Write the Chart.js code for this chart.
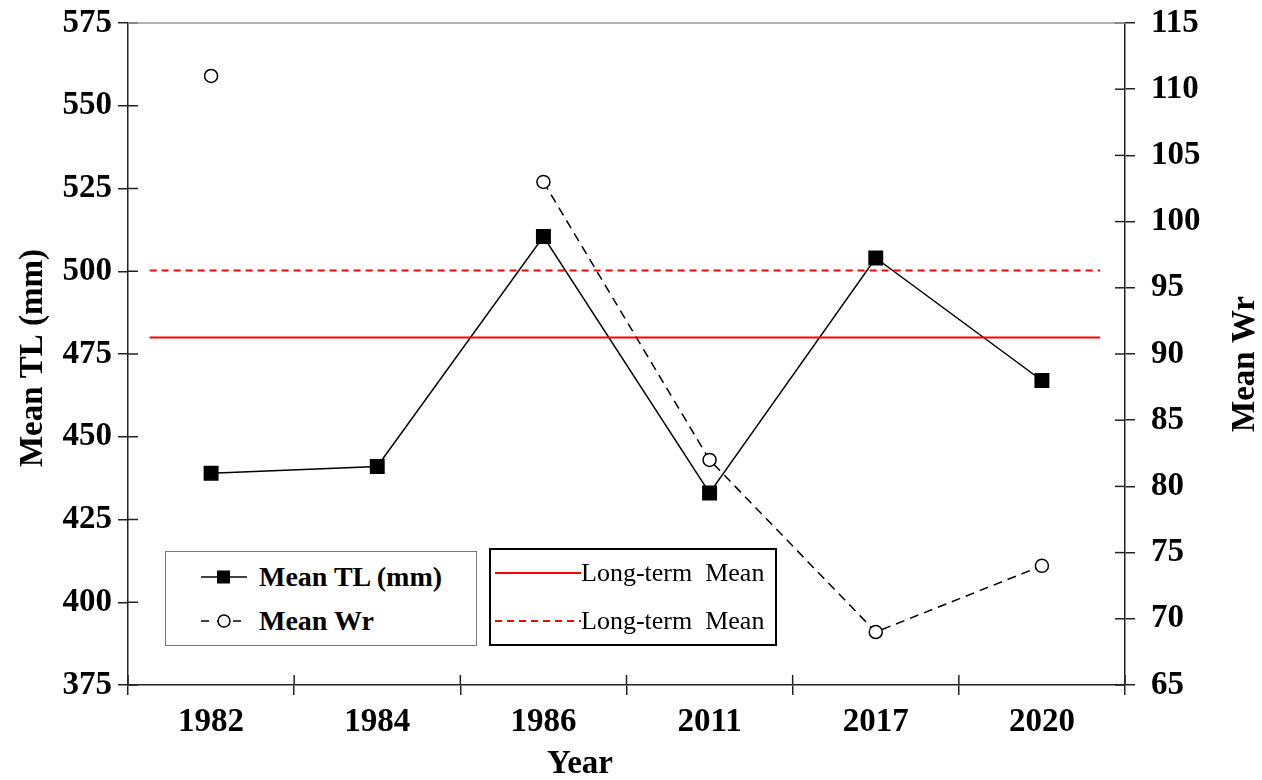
<!DOCTYPE html>
<html>
<head>
<meta charset="utf-8">
<script src="https://cdn.jsdelivr.net/npm/chart.js@4.4.0/dist/chart.umd.min.js"></script>
<style>
    body { margin: 0; background: #fff; }
    #wrap { position: relative; width: 1262px; height: 780px; }
    .legend { position: absolute; background: #fff; box-sizing: border-box; font-family: "Liberation Serif", serif; color: #000; }
    .row { position: absolute; display: flex; align-items: center; white-space: pre; }
    .row svg { display: block; }
</style>
</head>
<body>
<div id="wrap">
    <canvas id="wrChart"></canvas>

    <div class="legend" style="left:165px; top:551px; width:312px; height:95px; border:1px solid #777;">
        <div class="row" style="left:33px; top:8px; height:34px; font-weight:bold; font-size:28px;">
            <svg width="50" height="20"><line x1="2" y1="10" x2="48" y2="10" stroke="#000" stroke-width="1.5"/><rect x="18" y="3.5" width="13" height="13" fill="#000"/></svg>
            <span style="margin-left:10px;">Mean TL (mm)</span>
        </div>
        <div class="row" style="left:33px; top:52px; height:34px; font-weight:bold; font-size:28px;">
            <svg width="50" height="20"><line x1="2" y1="10" x2="48" y2="10" stroke="#000" stroke-width="1.5" stroke-dasharray="8,8"/><circle cx="25" cy="10" r="6" fill="#fff" stroke="#000" stroke-width="1.5"/></svg>
            <span style="margin-left:10px;">Mean Wr</span>
        </div>
    </div>

    <div class="legend" style="left:489px; top:548px; width:288px; height:98px; border:2px solid #000;">
        <div class="row" style="left:2px; top:7px; height:32px; font-size:26px;">
            <svg width="88" height="20"><line x1="2" y1="10" x2="88" y2="10" stroke="#ff0000" stroke-width="2"/></svg>
            <span>Long-term  Mean</span>
        </div>
        <div class="row" style="left:2px; top:55px; height:32px; font-size:26px;">
            <svg width="88" height="20"><line x1="2" y1="10" x2="88" y2="10" stroke="#ff0000" stroke-width="2" stroke-dasharray="7,5"/></svg>
            <span>Long-term  Mean</span>
        </div>
    </div>
</div>

<script>
// data
const years = ['1982', '1984', '1986', '2011', '2017', '2020'];
const meanTL = [439, 441, 510.5, 433, 504, 467];
const meanWr = [111, null, 103, 82, 69, 74];
const tlLongTermMean = 480;
const wrLongTermMean = 96.3;
// the long-term mean lines run a bit past the outer points (in category units)
const refLineStart = -0.37;
const refLineEnd = 5.35;

const FONT = '"Liberation Serif", "Times New Roman", serif';

// tick marks that cross the axis lines, top frame line and axis titles
const axisDecor = {
    id: 'axisDecor',
    afterDraw(chart) {
        const { ctx, chartArea: a, scales } = chart;
        ctx.save();
        ctx.strokeStyle = '#222';
        ctx.lineWidth = 1.5;

        scales.y.ticks.forEach(t => {
            const py = scales.y.getPixelForValue(t.value);
            ctx.beginPath(); ctx.moveTo(a.left, py); ctx.lineTo(a.left + 10, py); ctx.stroke();
        });
        scales.y1.ticks.forEach(t => {
            const py = scales.y1.getPixelForValue(t.value);
            ctx.beginPath(); ctx.moveTo(a.right - 10, py); ctx.lineTo(a.right, py); ctx.stroke();
        });
        const step = a.width / years.length;
        for (let i = 0; i <= years.length; i++) {
            const px = a.left + i * step;
            ctx.beginPath(); ctx.moveTo(px, a.bottom); ctx.lineTo(px, a.bottom - 10); ctx.stroke();
        }

        ctx.strokeStyle = '#999';
        ctx.lineWidth = 1.5;
        ctx.beginPath(); ctx.moveTo(a.left, a.top); ctx.lineTo(a.right, a.top); ctx.stroke();

        ctx.fillStyle = '#000';
        ctx.font = 'bold 33px ' + FONT;
        ctx.textAlign = 'center';
        ctx.textBaseline = 'middle';
        const midY = (a.top + a.bottom) / 2;

        ctx.save();
        ctx.translate(33, midY + 4);
        ctx.rotate(-Math.PI / 2);
        ctx.fillText('Mean TL (mm)', 0, 0);
        ctx.restore();

        ctx.save();
        ctx.translate(1245, midY + 10);
        ctx.rotate(-Math.PI / 2);
        ctx.fillText('Mean Wr', 0, 0);
        ctx.restore();

        ctx.fillText('Year', 580, 764);
        ctx.restore();
    }
};

const tickFont = { family: FONT, size: 33, weight: 'bold' };

// fixed axis sizes so the plot area sits where it does in the figure
function fixVertical(width) {
    return s => {
        s.width = width;
        s.paddingTop = 0;
        s.paddingBottom = 0;
    };
}

new Chart(document.getElementById('wrChart'), {
    type: 'line',
    data: {
        labels: years,
        datasets: [
            {
                label: 'Long-term Mean',
                data: [{ x: refLineStart, y: tlLongTermMean }, { x: refLineEnd, y: tlLongTermMean }],
                xAxisID: 'x2',
                yAxisID: 'y',
                borderColor: '#ff0000',
                borderWidth: 2,
                pointRadius: 0
            },
            {
                label: 'Long-term Mean',
                data: [{ x: refLineStart, y: wrLongTermMean }, { x: refLineEnd, y: wrLongTermMean }],
                xAxisID: 'x2',
                yAxisID: 'y1',
                borderColor: '#ff0000',
                borderWidth: 2,
                borderDash: [7, 5],
                pointRadius: 0
            },
            {
                label: 'Mean TL (mm)',
                data: meanTL,
                xAxisID: 'x',
                yAxisID: 'y',
                borderColor: '#000',
                borderWidth: 1.5,
                pointStyle: 'rect',
                pointRadius: 9.5,
                pointBackgroundColor: '#000',
                pointBorderColor: '#000',
                tension: 0
            },
            {
                label: 'Mean Wr',
                data: meanWr,
                xAxisID: 'x',
                yAxisID: 'y1',
                borderColor: '#000',
                borderWidth: 1.5,
                borderDash: [9, 6],
                pointStyle: 'circle',
                pointRadius: 6.5,
                pointBorderWidth: 1.5,
                pointBackgroundColor: '#fff',
                pointBorderColor: '#000',
                spanGaps: false,
                tension: 0
            }
        ]
    },
    options: {
        responsive: true,
        maintainAspectRatio: false,
        animation: false,
        layout: { padding: { top: 23, left: 0, right: 0, bottom: 0 } },
        plugins: {
            legend: { display: false },
            tooltip: { enabled: false }
        },
        scales: {
            x: {
                type: 'category',
                offset: true,
                grid: { offset: true, drawOnChartArea: false, drawTicks: true, tickLength: 10, color: '#222', lineWidth: 1.5 },
                border: { display: true, color: '#222', width: 1.5 },
                ticks: { color: '#000', font: tickFont, padding: 8, maxRotation: 0 },
                afterFit: s => { s.height = 95; s.paddingLeft = 0; s.paddingRight = 0; }
            },
            x2: {
                type: 'linear',
                display: false,
                min: -0.5,
                max: years.length - 0.5
            },
            y: {
                position: 'left',
                min: 375,
                max: 575,
                ticks: { stepSize: 25, color: '#000', font: tickFont, padding: 6 },
                grid: { drawOnChartArea: false, drawTicks: true, tickLength: 10, color: '#222', lineWidth: 1.5 },
                border: { display: true, color: '#222', width: 1.5 },
                afterFit: fixVertical(128)
            },
            y1: {
                position: 'right',
                min: 65,
                max: 115,
                ticks: { stepSize: 5, color: '#000', font: tickFont, padding: 16 },
                grid: { drawOnChartArea: false, drawTicks: true, tickLength: 10, color: '#222', lineWidth: 1.5 },
                border: { display: true, color: '#222', width: 1.5 },
                afterFit: fixVertical(137)
            }
        }
    },
    plugins: [axisDecor]
});
</script>
</body>
</html>
